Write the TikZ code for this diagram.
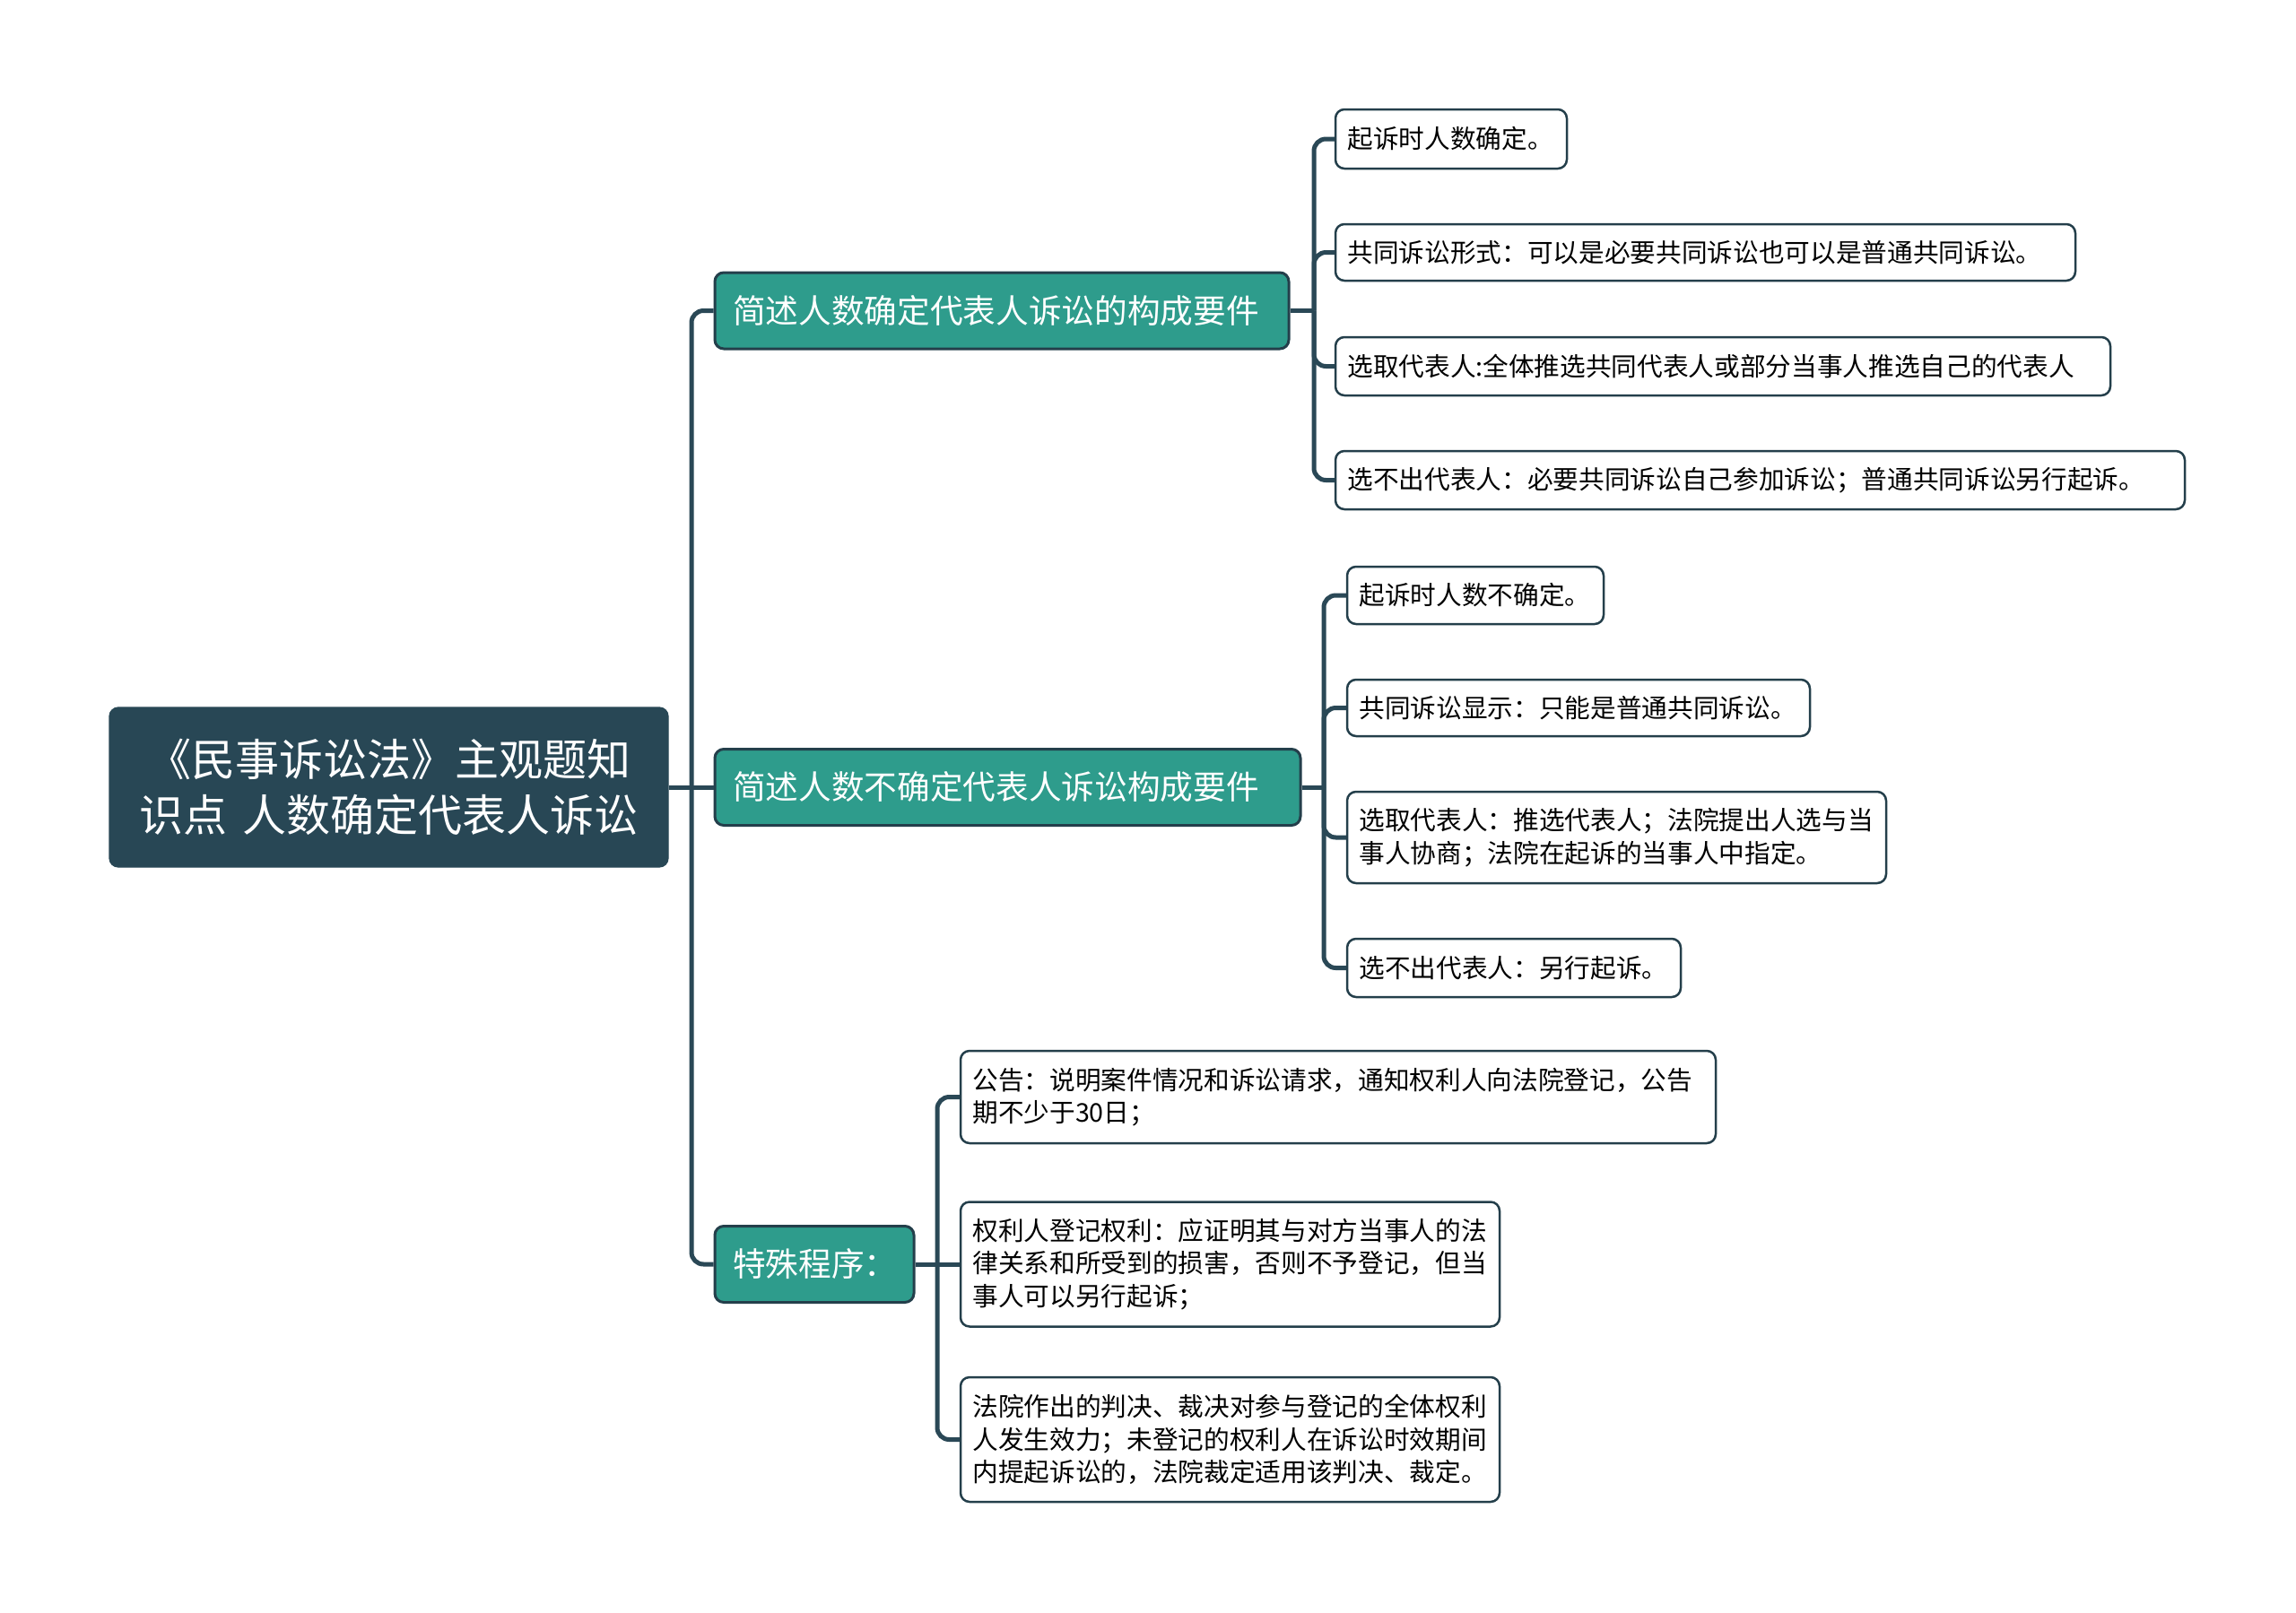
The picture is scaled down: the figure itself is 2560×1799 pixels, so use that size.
\documentclass[tikz,border=0pt]{standalone}
\usepackage{fontspec}
\setmainfont{Noto Sans CJK SC}
\definecolor{rootc}{HTML}{284755}
\definecolor{tealc}{HTML}{2E9C8C}
\definecolor{edgec}{HTML}{243F4B}
\definecolor{linec}{HTML}{2A4856}
\begin{document}
\begin{tikzpicture}[x=0.3pt,y=-0.3pt,
  conn/.style={draw=linec, line width=1.5pt, rounded corners=4pt},
  rootbox/.style={fill=rootc, draw=rootc, text=white, rounded corners=3pt, align=center,
    font=\fontsize{14.7}{18.6}\selectfont, inner xsep=8.45pt, inner ysep=0pt,
    text width=170pt, minimum height=53.4pt},
  midbox/.style={fill=tealc, draw=edgec, line width=0.9pt, text=white, rounded corners=3pt,
    align=left, font=\fontsize{11}{13}\selectfont, inner xsep=6pt, inner ysep=0pt,
    minimum height=25.5pt},
  leaf/.style={fill=white, draw=edgec, line width=0.75pt, text=black, rounded corners=3pt,
    align=left, font=\fontsize{8.6}{11}\selectfont, inner xsep=4pt, inner ysep=0pt}
]
\useasboundingbox (0,0) rectangle (2560,1799);

% root
\node[rootbox] (root) at (433.5,878) {《民事诉讼法》主观题知\\识点 人数确定代表人诉讼};

% level 1
\node[midbox, text width=180pt] (A) at (1117,346.5) {简述人数确定代表人诉讼的构成要件};
\node[midbox, text width=183.9pt] (B) at (1123.5,878) {简述人数不确定代表人诉讼构成要件};
\node[midbox, text width=54.6pt] (C) at (908,1410) {特殊程序：};

% children of A
\node[leaf, text width=69.4pt, minimum height=19.8pt] (A1) at (1618,155) {起诉时人数确定。};
\node[leaf, text width=239.5pt, minimum height=18.9pt] (A2) at (1901.5,281.5) {共同诉讼形式：可以是必要共同诉讼也可以是普通共同诉讼。};
\node[leaf, text width=251.2pt, minimum height=19.5pt] (A3) at (1921,408.5) {选取代表人:全体推选共同代表人或部分当事人推选自己的代表人};
\node[leaf, text width=276.1pt, minimum height=19.5pt] (A4) at (1962.5,535.5) {选不出代表人：必要共同诉讼自己参加诉讼；普通共同诉讼另行起诉。};

% children of B
\node[leaf, text width=77.8pt, minimum height=19.2pt] (B1) at (1645,664) {起诉时人数不确定。};
\node[leaf, text width=146.8pt, minimum height=18.9pt] (B2) at (1760,789.5) {共同诉讼显示：只能是普通共同诉讼。};
\node[leaf, text width=172.3pt, minimum height=30.6pt] (B3) at (1802.5,934) {选取代表人：推选代表人；法院提出人选与当\\事人协商；法院在起诉的当事人中指定。};
\node[leaf, text width=103.6pt, minimum height=19.5pt] (B4) at (1688,1079.5) {选不出代表人：另行起诉。};

% children of C
\node[leaf, text width=244.6pt, minimum height=30.9pt] (C1) at (1492,1223.5) {公告：说明案件情况和诉讼请求，通知权利人向法院登记，公告\\期不少于30日；};
\node[leaf, text width=172.3pt, minimum height=41.7pt] (C2) at (1371.5,1410) {权利人登记权利：应证明其与对方当事人的法\\律关系和所受到的损害，否则不予登记，但当\\事人可以另行起诉；};
\node[leaf, text width=172.3pt, minimum height=41.7pt] (C3) at (1371.5,1605.5) {法院作出的判决、裁决对参与登记的全体权利\\人发生效力；未登记的权利人在诉讼时效期间\\内提起诉讼的，法院裁定适用该判决、裁定。};

% connectors
\coordinate (t0) at (771,878);
\coordinate (ta) at (1465,346.5);
\coordinate (tb) at (1476,878);
\coordinate (tc) at (1045,1410);

\draw[conn] (root.east) -- (t0);
\draw[conn] (t0) |- (A.west);
\draw[conn] (t0) -- (B.west);
\draw[conn] (t0) |- (C.west);

\draw[conn] (A.east) -- (ta);
\foreach \n in {A1,A2,A3,A4} \draw[conn] (ta) |- (\n.west);

\draw[conn] (B.east) -- (tb);
\foreach \n in {B1,B2,B3,B4} \draw[conn] (tb) |- (\n.west);

\draw[conn] (C.east) -- (tc);
\draw[conn] (tc) |- (C1.west);
\draw[conn] (tc) -- (C2.west);
\draw[conn] (tc) |- (C3.west);
\end{tikzpicture}
\end{document}
